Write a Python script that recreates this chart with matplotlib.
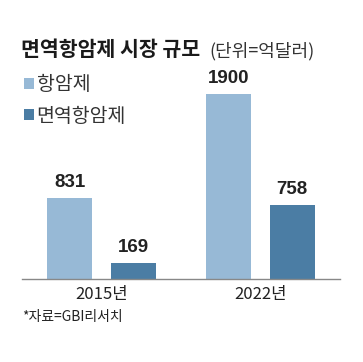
import matplotlib
matplotlib.use("Agg")
import matplotlib.pyplot as plt
from matplotlib.patches import Patch
from matplotlib import font_manager as fm

names = {f.name for f in fm.fontManager.ttflist}
NUMFONT = 'Liberation Sans Narrow' if 'Liberation Sans Narrow' in names else 'Liberation Sans'
KR = 'Noto Sans CJK KR'
plt.rcParams['font.family'] = [KR, 'DejaVu Sans']

years = ['2015년', '2022년']
series_names = ['항암제', '면역항암제']
anticancer = [831, 1900]
immuno = [169, 758]
colors = ['#97b9d6', '#4b7da4']

W, H = 363, 362
fig = plt.figure(figsize=(W/100, H/100), dpi=100)
ax = fig.add_axes([22/W, 83/H, 318/W, 185/H])

x = list(range(len(years)))
bw = 0.28
off = 0.2
b1 = ax.bar([i - off for i in x], anticancer, width=bw, color=colors[0], label=series_names[0])
b2 = ax.bar([i + off for i in x], immuno, width=bw, color=colors[1], label=series_names[1])

for bars, vals in ((b1, anticancer), (b2, immuno)):
    for r, v in zip(bars, vals):
        ax.annotate(str(v), (r.get_x() + r.get_width()/2, v), xytext=(0, 5),
                    textcoords='offset points', ha='center', va='bottom',
                    fontsize=13.5, fontweight='bold', family=[NUMFONT, KR], color='#222222')

ax.set_xlim(-0.5, 1.5)
ax.set_ylim(0, 1900)
ax.set_xticks(x)
ax.set_xticklabels(years, fontsize=12, color='#222222')
ax.tick_params(axis='x', length=0, pad=5)
ax.set_yticks([])
for s in ('left', 'right', 'top'):
    ax.spines[s].set_visible(False)
ax.spines['bottom'].set_color('#888888')
ax.spines['bottom'].set_linewidth(1)
ax.set_facecolor('none')

fig.text(21/W, 1 - 49/H, '면역항암제 시장 규모', fontsize=14.8, fontweight='bold',
         va='center', ha='left', color='#1a1a1a')
fig.text(209/W, 1 - 51/H, '(단위=억달러)', fontsize=13, va='center', ha='left', color='#333333')

handles = [Patch(facecolor=colors[0], edgecolor='none'), Patch(facecolor=colors[1], edgecolor='none')]
fig.legend(handles, series_names, loc='upper left', bbox_to_anchor=(24/W, 1 - 74/H),
           frameon=False, fontsize=14, handlelength=0.5, handleheight=0.5,
           handletextpad=0.15, labelspacing=0.55, borderpad=0, borderaxespad=0,
           labelcolor='#333333')

fig.text(22/W, 1 - 317/H, '*자료=GBI리서치', fontsize=10, va='center', ha='left', color='#222222')

fig.savefig('out.png', dpi=100)
